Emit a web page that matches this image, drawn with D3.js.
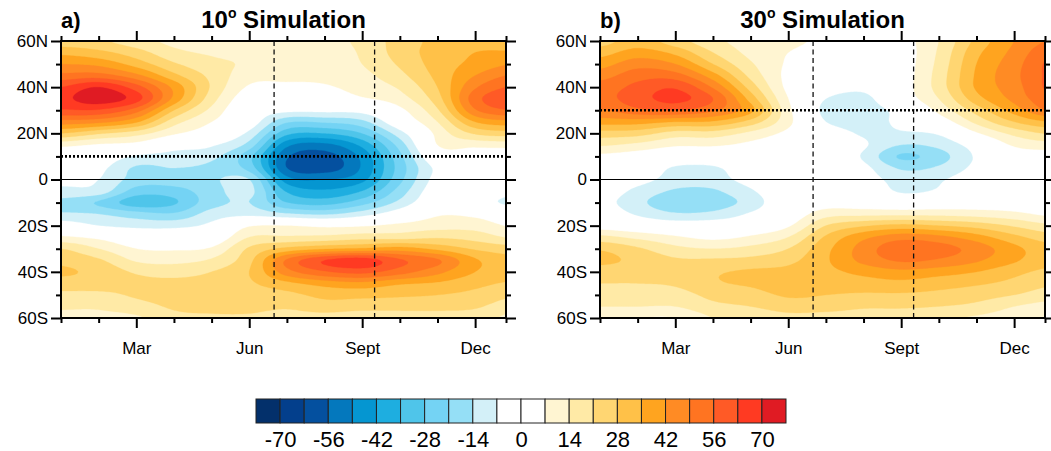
<!DOCTYPE html>
<html><head><meta charset="utf-8">
<script src="https://cdn.jsdelivr.net/npm/d3@7"></script>
<style>
body{margin:0;background:#fff}
svg{display:block}
text{font-family:"Liberation Sans",Arial,Helvetica,sans-serif;fill:#000}
</style></head><body>
<svg id="chart" width="1051" height="451"></svg>
<script>
// Grid of the zonal-mean field: columns are months (0 = Jan), rows are latitudes 60N..60S every 5 degrees
const monthCols = d3.range(13);
const latRows = d3.range(60, -61, -5);

// 10 degree simulation
const sim10Field = [
  [24, 22, 17, 12, 10, 10, 10, 11, 16, 24, 30, 33, 30],
  [33, 30, 24, 16, 13, 12, 10, 10, 15, 24, 31, 35, 36],
  [42, 40, 32, 22, 16, 13, 10, 10, 14, 22, 31, 37, 42],
  [51, 52, 44, 30, 19, 10, 9, 9, 12, 19, 30, 42, 50],
  [63, 70, 59, 40, 20, 6, 5, 6, 10, 15, 28, 48, 57],
  [68, 74, 66, 40, 17, 2, 1, 2, 6, 11, 25, 53, 62],
  [62, 62, 52, 28, 12, -1, -5, -5, -4, 5, 20, 48, 56],
  [46, 44, 36, 17, 7, -2, -20, -20, -16, 0, 14, 35, 40],
  [28, 22, 17, 8, 2, -9, -33, -35, -28, -10, 9, 22, 25],
  [9, 6, 4, -3, -6, -17, -47, -51, -40, -18, 7, 9, 10],
  [0, -1, -8, -10, -12, -26, -55, -59, -47, -23, 1, 2, 1],
  [-4, -5, -15, -14, -16, -24, -56, -60, -48, -25, -5, 0, -1],
  [-5, -7, -17, -17, -15, -14, -46, -49, -44, -23, -4, 0, -3],
  [-9, -10, -24, -24, -17, -12, -36, -41, -35, -18, -2, -1, -5],
  [-16, -22, -32, -29, -17, -14, -28, -31, -24, -12, 0, -3, -9],
  [-13, -14, -18, -20, -11, -9, -13, -15, -10, -2, 6, 5, 0],
  [-2, -7, -9, -9, -5, 6, 7, 5, 6, 9, 11, 11, 6],
  [8, 5, 0, -1, 0, 14, 15, 16, 18, 18, 20, 18, 13],
  [21, 14, 7, 6, 8, 22, 30, 34, 36, 38, 33, 27, 24],
  [26, 22, 13, 12, 15, 26, 50, 63, 67, 57, 50, 36, 30],
  [29, 26, 20, 18, 21, 28, 46, 55, 58, 52, 44, 35, 31],
  [25, 25, 23, 23, 24, 27, 33, 38, 40, 36, 34, 30, 27],
  [19, 19, 22, 24, 25, 25, 26, 30, 30, 29, 28, 26, 22],
  [15, 15, 18, 22, 23, 23, 22, 25, 24, 24, 24, 22, 17],
  [12, 12, 13, 19, 20, 20, 18, 18, 16, 16, 16, 17, 12]
];

// 30 degree simulation
const sim30Field = [
  [25, 31, 24, 16, 11, 9, 5, 2, 4, 14, 30, 42, 50],
  [32, 38, 33, 21, 12, 7, 3, 1, 3, 15, 33, 44, 55],
  [39, 46, 42, 28, 15, 6, 2, 0, 3, 16, 35, 46, 58],
  [46, 53, 52, 38, 19, 5, 1, -1, 3, 17, 36, 47, 58],
  [52, 58, 62, 48, 25, 5, -2, -5, 3, 17, 36, 46, 58],
  [53, 60, 65, 56, 32, 7, -7, -9, 2, 14, 32, 44, 55],
  [48, 54, 56, 50, 37, 9, -9, -10, -4, 9, 24, 38, 50],
  [38, 38, 35, 34, 25, 9, -7, -10, -5, 2, 16, 28, 35],
  [25, 24, 18, 18, 12, 5, -2, -8, -8, -6, 6, 16, 22],
  [15, 12, 8, 8, 5, 2, 0, -6, -14, -12, -3, 8, 11],
  [5, 3, 0, -1, 0, 0, 0, -8, -22, -17, -6, 2, 3],
  [0, 0, -8, -8, -2, 0, 0, -5, -15, -13, -5, 0, 0],
  [-1, -4, -10, -10, -4, 0, 1, -3, -10, -8, -2, 0, -1],
  [-2, -9, -15, -15, -8, 0, 2, 0, -8, -6, 0, 0, -2],
  [-4, -12, -19, -18, -11, 0, 3, 2, 0, 1, 2, 1, -3],
  [-1, -8, -13, -12, -6, 1, 11, 12, 12, 12, 11, 9, 5],
  [3, 0, -2, -2, 0, 6, 21, 27, 30, 28, 25, 20, 15],
  [16, 12, 8, 5, 8, 14, 29, 40, 46, 44, 38, 30, 24],
  [27, 22, 16, 14, 16, 21, 33, 45, 54, 52, 46, 37, 30],
  [30, 26, 22, 22, 23, 26, 34, 44, 50, 48, 43, 36, 30],
  [24, 24, 24, 27, 29, 30, 33, 37, 40, 38, 35, 30, 26],
  [21, 21, 22, 27, 29, 32, 31, 32, 33, 31, 29, 26, 22],
  [18, 18, 18, 23, 25, 29, 28, 27, 27, 26, 24, 21, 17],
  [14, 14, 14, 19, 21, 24, 24, 22, 22, 21, 19, 14, 11],
  [9, 7, 7, 14, 16, 19, 18, 17, 16, 15, 13, 10, 7]
];

// Contour levels and fill colours (one more colour than levels)
const levels = d3.range(-70, 71, 7);
const bandColors = ["#03306b","#033f8c","#04509f","#0478bd","#0596d1","#1eaee0","#4fc5ea","#74d3f4","#95dff6","#d3f0f8",
  "#ffffff","#ffffff","#fff5d2","#ffeaa6","#ffd672","#ffc148","#ffa41f","#ff8b24","#ff7421","#ff5a26","#ff3a22","#e01b23"];
const barLabels = levels.filter((d, i) => i % 2 === 0);

// Time axis
const monthEnd = 11.82;
const majorMonths = [2, 5, 8, 11];
const majorMonthLabels = ["Mar", "Jun", "Sept", "Dec"];
const minorMonths = [0, 1, 3, 4, 6, 7, 9, 10, 11.82];
const markMonths = [5.66, 8.33];

// Latitude axis
const majorLats = [60, 40, 20, 0, -20, -40, -60];
const majorLatLabels = ["60N", "40N", "20N", "0", "20S", "40S", "60S"];
const minorLats = [50, 30, 10, -10, -30, -50];

const panels = [
  {tag: "a)", deg: "10", field: sim10Field, refLat: 10, left: 61, right: 506},
  {tag: "b)", deg: "30", field: sim30Field, refLat: 30, left: 600, right: 1045}
];

const svg = d3.select("#chart");
const plotTop = 41, plotBottom = 318;

// Catmull-Rom smoothing between grid nodes
function cr(p0, p1, p2, p3, t) {
  return 0.5 * (2 * p1 + (-p0 + p2) * t + (2 * p0 - 5 * p1 + 4 * p2 - p3) * t * t + (-p0 + 3 * p1 - 3 * p2 + p3) * t * t * t);
}
function sample(field, m, lat) {
  const nc = monthCols.length - 1, nr = latRows.length - 1;
  const fx = Math.max(0, Math.min(nc, m));
  const fy = Math.max(0, Math.min(nr, (latRows[0] - lat) / 5));
  const ix = Math.min(nc - 1, Math.floor(fx)), iy = Math.min(nr - 1, Math.floor(fy));
  const tx = fx - ix, ty = fy - iy;
  const get = (r, c) => field[Math.max(0, Math.min(nr, r))][Math.max(0, Math.min(nc, c))];
  const rows = [-1, 0, 1, 2].map(d => cr(get(iy + d, ix - 1), get(iy + d, ix), get(iy + d, ix + 1), get(iy + d, ix + 2), tx));
  return cr(rows[0], rows[1], rows[2], rows[3], ty);
}

panels.forEach((p, pi) => {
  const xs = d3.scaleLinear().domain([0, monthEnd]).range([p.left, p.right]);
  const ys = d3.scaleLinear().domain([-60, 60]).range([plotBottom, plotTop]);
  const g = svg.append("g");

  const clipId = "clip" + pi;
  svg.append("clipPath").attr("id", clipId).append("rect")
    .attr("x", p.left).attr("y", plotTop).attr("width", p.right - p.left).attr("height", plotBottom - plotTop);

  // sample the field on a fine grid slightly larger than the plot box
  const nx = 250, ny = 150;
  const mLo = -0.3, mHi = 12.1, latLo = -63, latHi = 63;
  const sx = (mHi - mLo) / nx, sy = (latHi - latLo) / ny;
  const values = new Float64Array(nx * ny);
  for (let j = 0; j < ny; j++) {
    const lat = latHi - (j + 0.5) * sy;
    for (let i = 0; i < nx; i++) {
      values[j * nx + i] = sample(p.field, mLo + (i + 0.5) * sx, lat);
    }
  }
  const contours = d3.contours().size([nx, ny]).thresholds(levels)(values);
  const proj = d3.geoTransform({point(u, v) { this.stream.point(xs(mLo + u * sx), ys(latHi - v * sy)); }});
  const path = d3.geoPath(proj);

  const fillG = g.append("g").attr("clip-path", `url(#${clipId})`);
  fillG.append("rect").attr("x", p.left).attr("y", plotTop).attr("width", p.right - p.left).attr("height", plotBottom - plotTop)
    .attr("fill", bandColors[0]);
  fillG.selectAll("path.band").data(contours).join("path").attr("class", "band")
    .attr("d", path).attr("fill", (d, k) => bandColors[k + 1]).attr("stroke", (d, k) => bandColors[k + 1]).attr("stroke-width", 0.3);

  // equator, reference latitude and marker months
  g.append("line").attr("x1", p.left).attr("x2", p.right).attr("y1", ys(0)).attr("y2", ys(0))
    .attr("stroke", "#000").attr("stroke-width", 1.1);
  g.selectAll("line.mark").data(markMonths).join("line").attr("class", "mark")
    .attr("x1", d => xs(d)).attr("x2", d => xs(d)).attr("y1", plotTop).attr("y2", plotBottom)
    .attr("stroke", "#111").attr("stroke-width", 1.3).attr("stroke-dasharray", "5,3.5");
  g.append("line").attr("x1", p.left).attr("x2", p.right).attr("y1", ys(p.refLat)).attr("y2", ys(p.refLat))
    .attr("stroke", "#000").attr("stroke-width", 2.6).attr("stroke-dasharray", "2,2");

  // axes on all four sides
  const styleAxis = sel => {
    sel.select(".domain").remove();
    sel.selectAll(".tick line").attr("stroke", "#000").attr("stroke-width", 2);
    sel.selectAll(".tick text").attr("font-size", 17).attr("fill", "#000");
  };
  g.append("g").attr("transform", `translate(0,${plotBottom})`)
    .call(d3.axisBottom(xs).tickValues(majorMonths).tickFormat((d, i) => majorMonthLabels[i]).tickSize(10).tickPadding(14)).call(styleAxis);
  g.append("g").attr("transform", `translate(0,${plotBottom})`)
    .call(d3.axisBottom(xs).tickValues(minorMonths).tickFormat("").tickSize(5)).call(styleAxis);
  g.append("g").attr("transform", `translate(0,${plotTop})`)
    .call(d3.axisTop(xs).tickValues(majorMonths).tickFormat("").tickSize(10)).call(styleAxis);
  g.append("g").attr("transform", `translate(0,${plotTop})`)
    .call(d3.axisTop(xs).tickValues(minorMonths).tickFormat("").tickSize(5)).call(styleAxis);
  g.append("g").attr("transform", `translate(${p.left},0)`)
    .call(d3.axisLeft(ys).tickValues(majorLats).tickFormat((d, i) => majorLatLabels[i]).tickSize(10).tickPadding(3)).call(styleAxis);
  g.append("g").attr("transform", `translate(${p.left},0)`)
    .call(d3.axisLeft(ys).tickValues(minorLats).tickFormat("").tickSize(5)).call(styleAxis);
  g.append("g").attr("transform", `translate(${p.right},0)`)
    .call(d3.axisRight(ys).tickValues(majorLats).tickFormat("").tickSize(10)).call(styleAxis);
  g.append("g").attr("transform", `translate(${p.right},0)`)
    .call(d3.axisRight(ys).tickValues(minorLats).tickFormat("").tickSize(5)).call(styleAxis);

  g.append("rect").attr("x", p.left).attr("y", plotTop).attr("width", p.right - p.left).attr("height", plotBottom - plotTop)
    .attr("fill", "none").attr("stroke", "#000").attr("stroke-width", 2);

  // panel tag and title
  g.append("text").attr("x", p.left).attr("y", 28).attr("font-size", 22).attr("font-weight", "bold").text(p.tag);
  const t = g.append("text").attr("x", (p.left + p.right) / 2).attr("y", 28).attr("text-anchor", "middle")
    .attr("font-size", 24).attr("font-weight", "bold");
  t.append("tspan").text(p.deg);
  t.append("tspan").attr("font-size", 14).attr("dy", -10).text("o");
  t.append("tspan").attr("dy", 10).text("\u00a0Simulation");
});

// colour bar
const cb = d3.scaleLinear().domain([-77, 77]).range([256, 786]);
const cbTop = 399, cbBottom = 423;
const edges = [-77, ...levels, 77];
svg.append("g").selectAll("rect").data(bandColors).join("rect")
  .attr("x", (d, i) => cb(edges[i])).attr("y", cbTop)
  .attr("width", (d, i) => cb(edges[i + 1]) - cb(edges[i])).attr("height", cbBottom - cbTop)
  .attr("fill", d => d).attr("stroke", "#222").attr("stroke-width", 1);
const cbAxis = svg.append("g").attr("transform", `translate(0,${cbBottom})`)
  .call(d3.axisBottom(cb).tickValues(barLabels).tickFormat(d => String(d)).tickSize(0).tickPadding(8));
cbAxis.select(".domain").remove();
cbAxis.selectAll(".tick text").attr("font-size", 22).attr("fill", "#000");
</script>
</body></html>
